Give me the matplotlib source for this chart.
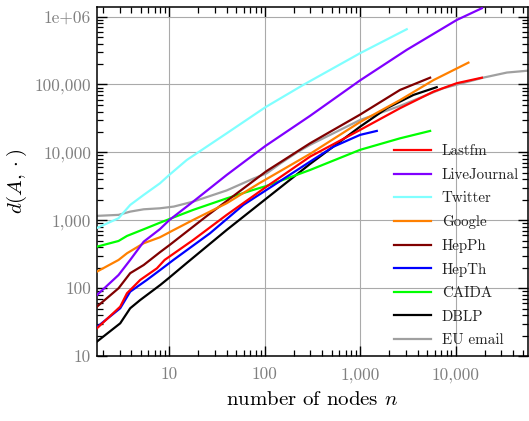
import numpy as np
import matplotlib
matplotlib.use('Agg')
import matplotlib.pyplot as plt
from matplotlib.ticker import LogLocator, FuncFormatter, NullFormatter

plt.rcParams['font.family'] = ['cmr10', 'DejaVu Serif']
plt.rcParams['mathtext.fontset'] = 'cm'
plt.rcParams['axes.formatter.use_mathtext'] = True

# values (n = number of nodes, d = d(A, .))
labels = ['Lastfm', 'LiveJournal', 'Twitter', 'Google', 'HepPh', 'HepTh', 'CAIDA', 'DBLP', 'EU email']
colors = ['#ff0000', '#8000ff', '#80ffff', '#ff8000', '#800000', '#0000ff', '#00ff00', '#000000', '#a0a0a0']

n_lastfm = [1.74, 3.05, 3.59, 4.94, 7.4, 8.9, 17.7, 39.8, 104, 297, 993, 2600, 5830, 10230, 18750]
d_lastfm = [25.6, 53.3, 84, 132, 196, 260, 511, 1200, 3130, 8650, 21400, 44700, 78500, 104500, 126000]

n_livejournal = [1.74, 2.93, 3.88, 5.37, 7.95, 10, 17.7, 39.8, 64.4, 101, 297, 993, 3060, 10230, 18750]
d_livejournal = [79, 156, 260, 483, 740, 1010, 1880, 4650, 7730, 12400, 34500, 115000, 324000, 893000, 1330000]

n_twitter = [1.74, 2.93, 3.88, 5.37, 7.95, 9.95, 15.2, 39.8, 101, 252, 993, 3060]
d_twitter = [770, 1070, 1680, 2360, 3500, 4650, 7730, 19100, 46200, 98600, 289000, 652000]

n_google = [1.74, 2.93, 3.59, 5.37, 7.95, 11.1, 17.7, 39.8, 87, 297, 993, 2600, 5830, 13550]
d_google = [175, 260, 326, 458, 561, 719, 1010, 1780, 3500, 9500, 28000, 58900, 116000, 210000]

n_hepph = [1.74, 2.93, 3.88, 5.37, 8.0, 10, 24.7, 104, 297, 993, 2600, 5380]
d_hepph = [53.3, 99.5, 166, 219, 340, 430, 1160, 5300, 13600, 36000, 83100, 126000]

n_hepth = [1.74, 3.05, 3.88, 5.8, 8.0, 11, 26.6, 59.4, 104, 297, 521, 993, 1486]
d_hepth = [26.7, 50.5, 88.7, 132, 185, 260, 643, 1680, 2800, 7300, 12100, 18100, 20700]

n_caida = [1.74, 2.93, 3.59, 5.37, 7.95, 17.7, 39.8, 75.6, 104, 297, 993, 2600, 5380]
d_caida = [408, 495, 587, 736, 920, 1420, 2100, 2800, 3200, 5500, 10900, 16100, 20700]

n_dblp = [1.74, 3.05, 3.88, 4.94, 8.0, 9.8, 15.2, 39.8, 104, 297, 993, 1890, 3600, 6300]
d_dblp = [16.3, 30.3, 50.5, 66.8, 111, 140, 235, 720, 2100, 6750, 23900, 44700, 70200, 91300]

n_eu = [1.74, 2.93, 3.88, 5.37, 7.95, 11.1, 17.7, 39.8, 75.6, 104, 144, 217, 297, 993, 2600, 7400, 19300, 34300, 57600]
d_eu = [1160, 1200, 1340, 1450, 1500, 1590, 1880, 2750, 4100, 4900, 6800, 10000, 12900, 30000, 48300, 88100, 126000, 150000, 160000]

series_n = [n_lastfm, n_livejournal, n_twitter, n_google, n_hepph, n_hepth, n_caida, n_dblp, n_eu]
series_d = [d_lastfm, d_livejournal, d_twitter, d_google, d_hepph, d_hepth, d_caida, d_dblp, d_eu]

fig = plt.figure(figsize=(5.29, 4.21), dpi=100)
ax = fig.add_axes([96.7 / 529, 1 - 356 / 421, (528 - 96.7) / 529, (356 - 6.7) / 421])

for i, (xs, ys) in enumerate(zip(series_n, series_d)):
    ax.plot(xs, ys, color=colors[i], lw=1.6, label=labels[i], zorder=10 - i)

ax.set_xscale('log')
ax.set_yscale('log')
ax.set_xlim(1.73, 57000)
ax.set_ylim(10, 1.4e6)


def fmt(v, pos):
    if v >= 1e6:
        return '%.0e' % v
    return '{:,.0f}'.format(v)


ax.xaxis.set_major_locator(LogLocator(base=10))
ax.yaxis.set_major_locator(LogLocator(base=10))
ax.xaxis.set_minor_locator(LogLocator(base=10, subs=np.arange(2, 10)))
ax.yaxis.set_minor_locator(LogLocator(base=10, subs=np.arange(2, 10)))
ax.xaxis.set_major_formatter(FuncFormatter(fmt))
ax.yaxis.set_major_formatter(FuncFormatter(fmt))
ax.xaxis.set_minor_formatter(NullFormatter())
ax.yaxis.set_minor_formatter(NullFormatter())

ax.tick_params(which='both', direction='in', top=True, right=True, colors='black',
               labelcolor='#808080', labelsize=12.5)
ax.tick_params(which='major', length=7, width=1)
ax.tick_params(which='minor', length=4.3, width=0.9)
ax.tick_params(axis='x', pad=8)
ax.tick_params(axis='y', pad=4)

for s in ax.spines.values():
    s.set_linewidth(1.1)
    s.set_color('black')

ax.grid(True, which='major', color='#aaaaaa', lw=0.8)
ax.set_axisbelow(True)

ax.set_xlabel(r'number of nodes $n$', fontsize=15, labelpad=6)
ax.set_ylabel(r'$d(A,\cdot)$', fontsize=15, labelpad=4)

leg = ax.legend(loc='lower right', frameon=False, fontsize=10.8, handlelength=2.5,
                labelspacing=0.65, handletextpad=0.7, borderaxespad=0.2)
for t in leg.get_texts():
    t.set_color('#222222')

plt.savefig('out.png', dpi=100)
